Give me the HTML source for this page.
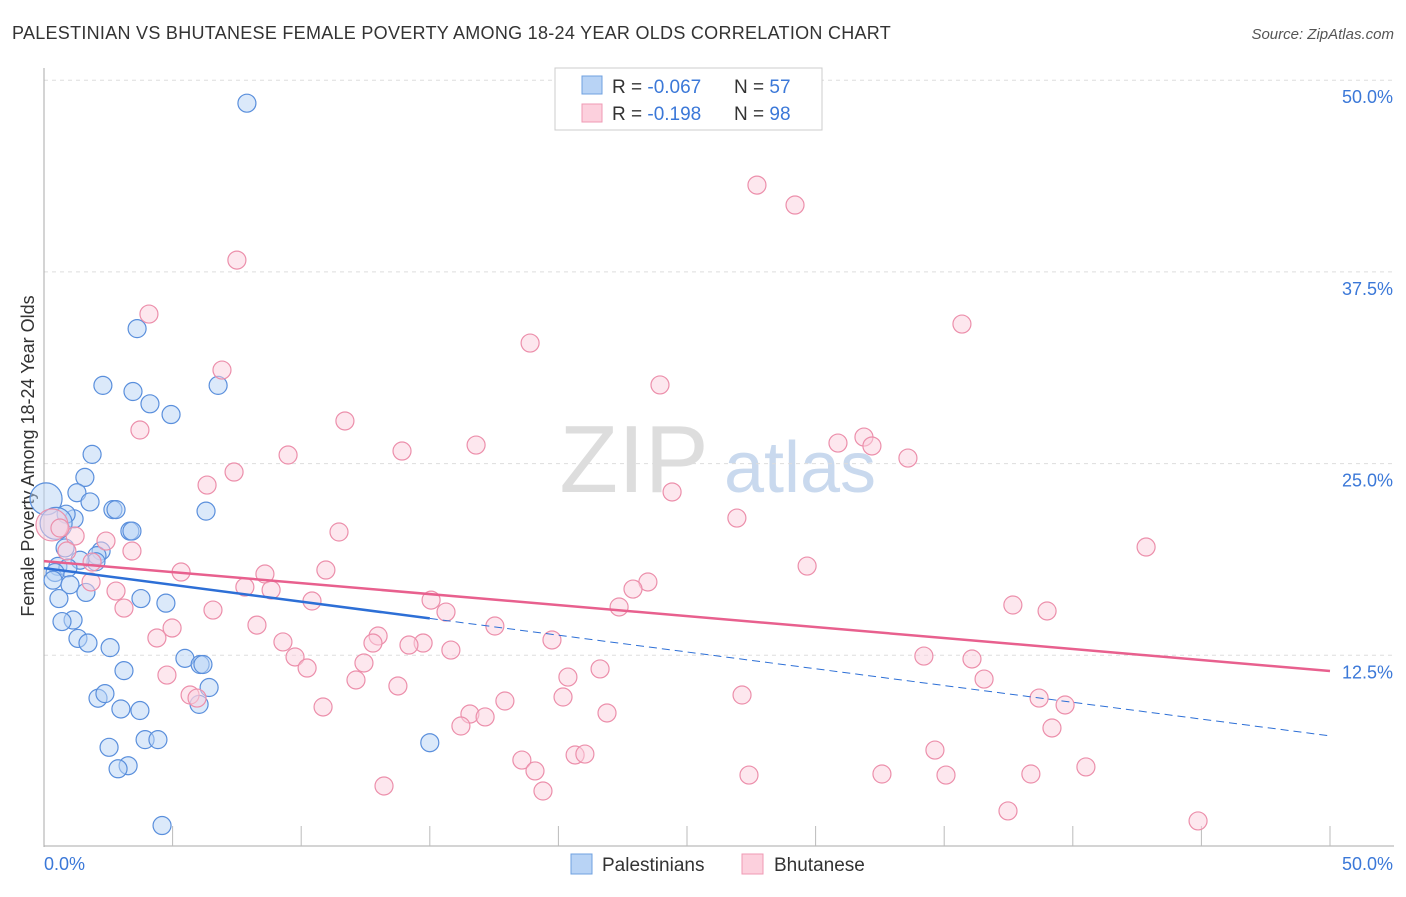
<!DOCTYPE html>
<html><head><meta charset="utf-8"><style>
body{margin:0;background:#fff;font-family:"Liberation Sans",sans-serif;}
svg text{font-family:"Liberation Sans",sans-serif;}
</style></head><body>
<svg id="chart" width="1406" height="892">
<text x="12" y="39" font-size="18" fill="#333" letter-spacing="0.28">PALESTINIAN VS BHUTANESE FEMALE POVERTY AMONG 18-24 YEAR OLDS CORRELATION CHART</text>
<text x="1394" y="39" font-size="15" fill="#555" font-style="italic" text-anchor="end">Source: ZipAtlas.com</text>
<text x="634" y="492" font-size="96" fill="#ddd" font-family="Liberation Serif" text-anchor="middle">ZIP</text>
<text x="800" y="492" font-size="72" fill="#c9d9ee" text-anchor="middle">atlas</text>
<text transform="translate(34,456) rotate(-90)" font-size="18" fill="#333" text-anchor="middle">Female Poverty Among 18-24 Year Olds</text>
<g id="grid"></g><g id="pts"></g><g id="lines"></g>
<g>
<rect x="555" y="68" width="267" height="62" fill="#fff" stroke="#ccc"/>
<rect x="582" y="76" width="20" height="18" fill="#b8d3f5" stroke="#6fa0e0"/>
<rect x="582" y="104" width="20" height="18" fill="#fcd0dd" stroke="#ef9ab4"/>
<text x="612" y="93" font-size="19" fill="#333">R = <tspan fill="#3b78d8">-0.067</tspan></text>
<text x="734" y="93" font-size="19" fill="#333">N = <tspan fill="#3b78d8">57</tspan></text>
<text x="612" y="120" font-size="19" fill="#333">R =  <tspan fill="#3b78d8">-0.198</tspan></text>
<text x="734" y="120" font-size="19" fill="#333">N = <tspan fill="#3b78d8">98</tspan></text>
</g>
<g>
<rect x="571" y="854" width="21" height="20" fill="#b8d3f5" stroke="#6fa0e0"/>
<text x="602" y="871" font-size="19" fill="#333">Palestinians</text>
<rect x="742" y="854" width="21" height="20" fill="#fcd0dd" stroke="#ef9ab4"/>
<text x="774" y="871" font-size="19" fill="#333">Bhutanese</text>
</g>
</svg>
<script>
const palX=[7.89,3.62,2.29,3.46,4.12,4.94,6.77,1.87,1.59,1.28,1.79,6.30,2.68,2.80,1.17,0.86,0.08,3.34,3.42,0.82,2.22,2.06,2.02,1.40,0.54,0.93,0.43,0.35,1.01,1.63,0.58,3.77,4.74,1.13,0.70,1.32,1.71,2.57,5.48,6.07,6.18,3.11,6.42,2.10,2.37,2.99,3.73,6.03,3.93,4.43,2.53,3.27,2.88,15.0,4.59,0.47];
const palY=[48.5,33.8,30.1,29.7,28.9,28.2,30.1,25.6,24.1,23.1,22.5,21.9,22.0,22.0,21.4,21.7,22.7,20.6,20.6,19.5,19.3,19.0,18.6,18.7,18.3,18.2,17.9,17.4,17.1,16.6,16.2,16.2,15.9,14.8,14.7,13.6,13.3,13.0,12.3,11.9,11.9,11.5,10.4,9.7,10.0,9.0,8.9,9.3,7.0,7.0,6.5,5.3,5.1,6.8,1.4,21.1];
const bhuX=[27.72,29.20,7.50,4.08,35.69,18.90,6.92,23.95,11.70,3.73,16.80,30.87,31.88,32.19,13.92,9.49,33.59,7.39,6.34,24.42,26.94,11.47,0.31,1.21,2.41,3.42,42.85,0.89,5.33,10.96,29.67,8.59,23.48,22.90,7.81,8.83,1.83,2.80,15.05,10.42,37.67,39.00,22.36,3.11,6.57,15.63,17.53,4.98,8.28,4.39,12.99,12.79,14.74,14.19,19.75,9.29,15.82,9.76,34.21,36.08,21.62,12.44,10.23,4.78,20.37,36.55,12.13,13.76,5.68,5.95,27.14,38.69,39.70,20.18,17.92,10.85,16.56,17.15,21.89,16.21,39.19,34.64,20.65,21.03,18.58,19.09,27.41,32.58,35.07,38.37,40.51,13.22,19.40,37.48,44.87,1.87,0.62];
const bhuY=[43.16,41.86,38.27,34.75,34.10,32.86,31.10,30.13,27.78,27.19,26.21,26.34,26.73,26.15,25.82,25.56,25.36,24.45,23.60,23.15,21.45,20.54,21.0,20.28,19.95,19.30,19.56,19.30,17.93,18.06,18.32,17.80,17.28,16.82,16.95,16.76,17.28,16.69,16.10,16.04,15.78,15.39,15.65,15.58,15.45,15.32,14.41,14.28,14.47,13.63,13.76,13.30,13.30,13.17,13.50,13.37,12.84,12.39,12.45,12.26,11.61,12.00,11.67,11.21,11.08,10.95,10.89,10.50,9.91,9.71,9.91,9.71,9.26,9.78,9.52,9.13,8.67,8.48,8.74,7.89,7.76,6.32,6.00,6.06,5.67,4.96,4.69,4.76,4.69,4.76,5.22,3.98,3.65,2.35,1.70,18.58,20.8];
const yTicks=[12.5,25.0,37.5,50.0];
const NS="http://www.w3.org/2000/svg";
const sx=v=>44+v/50*1286, sy=v=>847-v/12.5*191.7;
function mk(t,a,p){const e=document.createElementNS(NS,t);for(const k in a)e.setAttribute(k,a[k]);p.appendChild(e);return e;}
const grid=document.getElementById('grid');
for(const t of yTicks){
 const g=mk('line',{x1:44,x2:1394,y1:sy(t),y2:sy(t),stroke:'#ddd','stroke-dasharray':'4,4'},grid);
 
 
 const l=mk('text',{x:1393,y:sy(t)+23,'font-size':18,fill:'#3b78d8','text-anchor':'end'},grid);
 l.textContent=t.toFixed(1)+'%';
 
 
}
mk('line',{x1:44,x2:44,y1:68,y2:847,stroke:'#aaa'},grid);
mk('line',{x1:44,x2:1394,y1:846,y2:846,stroke:'#aaa'},grid);
for(let i=1;i<=10;i++){const tk=mk('line',{x1:sx(i*5),x2:sx(i*5),y1:826,y2:846,stroke:'#bbb'},grid);
 
 }
const x0=mk('text',{x:44,y:870,'font-size':18,fill:'#3b78d8'},grid);x0.textContent='0.0%';


const x1=mk('text',{x:1393,y:870,'font-size':18,fill:'#3b78d8','text-anchor':'end'},grid);x1.textContent='50.0%';


const pts=document.getElementById('pts');
function draw(X,Y,fill,stroke,name){X.forEach((x,i)=>{const r=(x<0.5&&(Y[i]>20.5&&Y[i]<23))?16:9;
 const c=mk('circle',{cx:sx(x),cy:sy(Y[i]),r:r,fill:fill,'fill-opacity':0.5,stroke:stroke,'stroke-width':1.2},pts);
 
 });}
draw(palX,palY,'#b8d3f5','#5a8fdc','palestinian-point');
draw(bhuX,bhuY,'#fcd0dd','#ec8fab','bhutanese-point');
function reg(X,Y){const n=X.length,mx=X.reduce((a,b)=>a+b)/n,my=Y.reduce((a,b)=>a+b)/n;let sxy=0,sxx=0;X.forEach((x,i)=>{sxy+=(x-mx)*(Y[i]-my);sxx+=(x-mx)**2});const b=sxy/sxx;return [my-b*mx,b];}
const lines=document.getElementById('lines');
const [pa,pb]=reg(palX,palY),[ba,bb]=reg(bhuX,bhuY);
const pmax=Math.max(...palX);
const l1=mk('line',{x1:sx(0),y1:sy(pa),x2:sx(pmax),y2:sy(pa+pb*pmax),stroke:'#2d6fd6','stroke-width':2.5},lines);


const l2=mk('line',{x1:sx(pmax),y1:sy(pa+pb*pmax),x2:sx(50),y2:sy(pa+pb*50),stroke:'#2d6fd6','stroke-width':1,'stroke-dasharray':'8,5'},lines);


const l3=mk('line',{x1:sx(0),y1:sy(ba),x2:sx(50),y2:sy(ba+bb*50),stroke:'#e8608e','stroke-width':2.5},lines);


</script>
</body></html>
